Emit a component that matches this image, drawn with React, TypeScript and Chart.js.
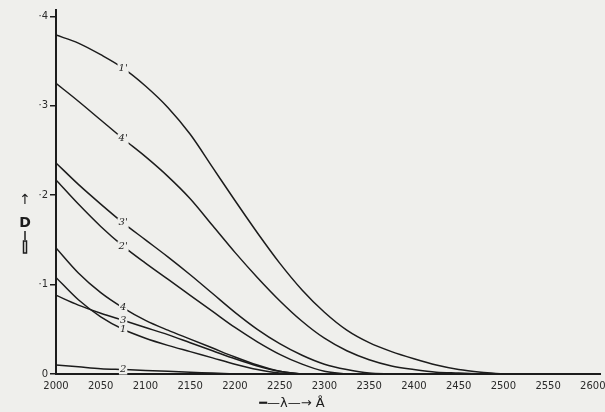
import React, { useEffect, useRef } from "react";
import { Chart, registerables } from "chart.js";

Chart.register(...registerables);

const wavelengths = [2000, 2025, 2050, 2075, 2100, 2125, 2150, 2175, 2200, 2225, 2250, 2275, 2300, 2325, 2350, 2375, 2400, 2425, 2450, 2475, 2500];
const xTicks = [2000, 2050, 2100, 2150, 2200, 2250, 2300, 2350, 2400, 2450, 2500, 2550, 2600];
const yTicks = [0, 0.1, 0.2, 0.3, 0.4];
const yTickLabels = ["0", "·1", "·2", "·3", "·4"];

const curve1p = [0.379, 0.370, 0.357, 0.342, 0.322, 0.298, 0.268, 0.231, 0.194, 0.158, 0.124, 0.094, 0.069, 0.049, 0.035, 0.025, 0.017, 0.010, 0.005, 0.002, 0];
const curve4p = [0.325, 0.305, 0.284, 0.263, 0.243, 0.221, 0.196, 0.166, 0.136, 0.108, 0.082, 0.059, 0.040, 0.026, 0.016, 0.009, 0.005, 0.002, 0.001, 0];
const curve3p = [0.236, 0.212, 0.190, 0.169, 0.150, 0.131, 0.111, 0.090, 0.069, 0.050, 0.034, 0.021, 0.011, 0.005, 0.001, 0];
const curve2p = [0.217, 0.190, 0.165, 0.143, 0.124, 0.106, 0.088, 0.070, 0.052, 0.036, 0.022, 0.011, 0.003, 0];
const curve4 = [0.141, 0.113, 0.091, 0.074, 0.060, 0.049, 0.039, 0.029, 0.019, 0.010, 0.003, 0];
const curve3 = [0.088, 0.077, 0.068, 0.060, 0.052, 0.044, 0.035, 0.026, 0.017, 0.009, 0.003, 0];
const curve1 = [0.108, 0.083, 0.064, 0.050, 0.040, 0.032, 0.025, 0.018, 0.011, 0.005, 0.001, 0];
const curve2 = [0.010, 0.008, 0.006, 0.005, 0.004, 0.003, 0.002, 0.001, 0];

const seriesNames = ["1'", "4'", "3'", "2'", "4", "3", "1", "2"];
const seriesValues = [curve1p, curve4p, curve3p, curve2p, curve4, curve3, curve1, curve2];
const labelAt = 3; // index of wavelength where the curve number is written

const PAPER = "#efefec";
const INK = "#1c1c1c";

export default function App() {
  const ref = useRef<HTMLCanvasElement | null>(null);

  useEffect(() => {
    if (!ref.current) return;

    const bgPlugin = {
      id: "paper",
      beforeDraw(chart: any) {
        const { ctx, width, height } = chart;
        ctx.save();
        ctx.fillStyle = PAPER;
        ctx.fillRect(0, 0, width, height);
        ctx.restore();
      },
    };

    const labelPlugin = {
      id: "curveLabels",
      afterDatasetsDraw(chart: any) {
        const { ctx } = chart;
        const xs = chart.scales.x;
        const ys = chart.scales.y;
        ctx.save();
        ctx.font = "italic 10px 'DejaVu Serif'";
        ctx.textAlign = "center";
        ctx.textBaseline = "middle";
        seriesValues.forEach((vals, i) => {
          const px = xs.getPixelForValue(wavelengths[labelAt]);
          const py = ys.getPixelForValue(vals[labelAt]);
          const name = seriesNames[i];
          const w = ctx.measureText(name).width + 2;
          ctx.fillStyle = PAPER;
          ctx.fillRect(px - w / 2, py - 5, w, 10);
          ctx.fillStyle = INK;
          ctx.fillText(name, px, py);
        });
        // axis titles
        ctx.font = "bold 14px 'DejaVu Sans'";
        ctx.fillStyle = INK;
        ctx.fillText("D", 25, 223);
        ctx.font = "14px 'DejaVu Sans'";
        ctx.fillText("↑", 25, 200);
        ctx.strokeStyle = INK;
        ctx.lineWidth = 1.5;
        ctx.beginPath();
        ctx.moveTo(25, 231);
        ctx.lineTo(25, 240);
        ctx.stroke();
        ctx.strokeRect(23.5, 241, 3, 12);
        ctx.font = "13px 'DejaVu Sans'";
        ctx.fillText("━—λ—→ Å", 292, 404);
        ctx.restore();
      },
    };

    const chart = new Chart(ref.current, {
      type: "line",
      data: {
        datasets: seriesValues.map((vals, i) => ({
          label: seriesNames[i],
          data: vals.map((v, j) => ({ x: wavelengths[j], y: v })),
          borderColor: INK,
          borderWidth: 1.5,
          pointRadius: 0,
          fill: false,
          cubicInterpolationMode: "monotone" as const,
        })),
      },
      options: {
        animation: false,
        responsive: false,
        maintainAspectRatio: false,
        layout: { padding: { left: 0, top: 10, right: 5, bottom: 0 } },
        plugins: { legend: { display: false }, tooltip: { enabled: false } },
        scales: {
          x: {
            type: "linear",
            min: 2000,
            max: 2608,
            afterBuildTicks: (s: any) => {
              s.ticks = xTicks.map((v) => ({ value: v }));
            },
            afterFit: (s: any) => {
              s.height = 38;
              s.paddingLeft = 0;
              s.paddingRight = 0;
            },
            grid: { display: false, drawTicks: false },
            border: { display: true, color: INK, width: 2 },
            ticks: {
              padding: 6,
              maxRotation: 0,
              autoSkip: false,
              color: "#2a2a2a",
              font: { family: "'DejaVu Sans'", size: 10 },
              callback: (v: any) => String(v),
            },
          },
          y: {
            type: "linear",
            min: 0,
            max: 0.407,
            afterBuildTicks: (s: any) => {
              s.ticks = yTicks.map((v) => ({ value: v }));
            },
            afterFit: (s: any) => {
              s.width = 56;
              s.paddingTop = 0;
              s.paddingBottom = 0;
            },
            grid: { display: true, drawOnChartArea: false, drawTicks: true, tickLength: 6, color: INK, lineWidth: 1.5 },
            border: { display: true, color: INK, width: 2 },
            ticks: {
              padding: 2,
              color: "#2a2a2a",
              font: { family: "'DejaVu Sans'", size: 10 },
              callback: (v: any) => {
                const i = yTicks.findIndex((t) => Math.abs(t - v) < 1e-9);
                return i >= 0 ? yTickLabels[i] : "";
              },
            },
          },
        },
      },
      plugins: [bgPlugin, labelPlugin],
    });

    return () => chart.destroy();
  }, []);

  return (
    <div style={{ position: "fixed", left: 0, top: 0, width: 605, height: 412 }}>
      <canvas ref={ref} width={605} height={412} style={{ width: 605, height: 412, display: "block" }} />
    </div>
  );
}
